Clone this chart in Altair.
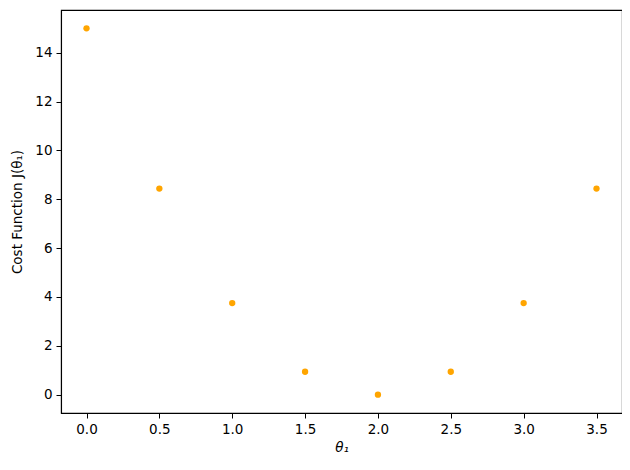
import altair as alt
import pandas as pd

theta1 = [0.0, 0.5, 1.0, 1.5, 2.0, 2.5, 3.0, 3.5]
cost = [15.0, 8.4375, 3.75, 0.9375, 0.0, 0.9375, 3.75, 8.4375]
x_ticks = [0.0, 0.5, 1.0, 1.5, 2.0, 2.5, 3.0, 3.5]
y_ticks = [0, 2, 4, 6, 8, 10, 12, 14]

df = pd.DataFrame({"theta1": theta1, "cost": cost})

FONT = "DejaVu Sans"
axis_common = dict(
    grid=False,
    domain=True,
    domainColor="black",
    domainWidth=1.1,
    tickColor="black",
    tickSize=5,
    tickWidth=1,
    labelFont=FONT,
    labelFontSize=13.5,
    labelColor="black",
    labelPadding=4,
    titleFont=FONT,
    titleFontSize=13.5,
    titleColor="black",
    titleFontWeight="normal",
)

chart = alt.Chart(df).mark_point(filled=True, color="#FFA500", opacity=1, size=40).encode(
    x=alt.X("theta1:Q",
            scale=alt.Scale(domain=[-0.175, 3.675], nice=False, zero=False),
            axis=alt.Axis(values=x_ticks, format=".1f", title="θ₁", titlePadding=5,
                          titleFontStyle="italic", **axis_common)),
    y=alt.Y("cost:Q",
            scale=alt.Scale(domain=[-0.75, 15.75], nice=False, zero=False),
            axis=alt.Axis(values=y_ticks, format="d", title="Cost Function J(θ₁)", titlePadding=10, **axis_common)),
).properties(
    width=561,
    height=403,
    background="white",
    autosize=alt.AutoSizeParams(type="none"),
    padding={"left": 53, "top": 2, "right": 0, "bottom": 47},
).configure_view(
    stroke="black",
    strokeWidth=1.1,
    strokeOpacity=1,
)

chart.save("out.html", embed_options={"renderer": "svg", "actions": False})
